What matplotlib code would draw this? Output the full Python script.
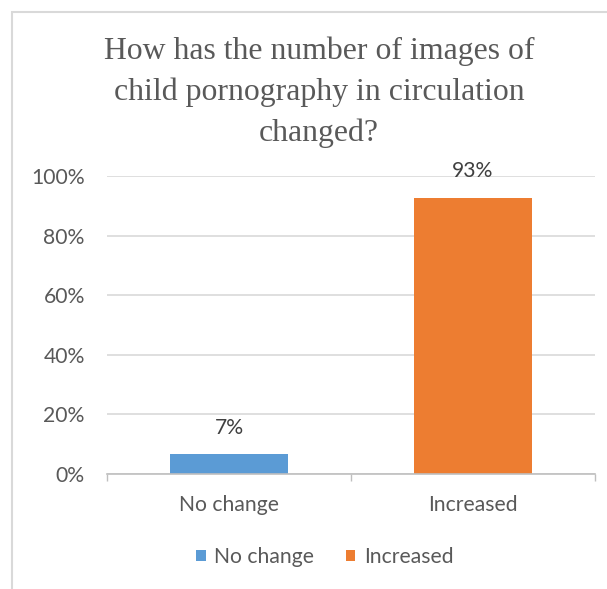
import matplotlib
matplotlib.use("Agg")
import matplotlib.pyplot as plt
from matplotlib.patches import Patch, Rectangle

# chart data
categories = ["No change", "Increased"]
values = [0.066, 0.926]
colors = ["#5b9bd5", "#ed7d31"]
y_ticks = [0, 0.2, 0.4, 0.6, 0.8, 1.0]
y_tick_labels = ["0%", "20%", "40%", "60%", "80%", "100%"]
title = "How has the number of images of\nchild pornography in circulation\nchanged?"

plt.rcParams["font.family"] = ["Lato", "DejaVu Sans"]
fs = 15.2

fig = plt.figure(figsize=(6.07, 5.89), dpi=100)
ax = fig.add_axes([107 / 607, 1 - 474 / 589, (595 - 107) / 607, (474 - 176) / 589])

x = list(range(len(categories)))
bars = ax.bar(x, values, width=0.48, color=colors, zorder=3)

for xi, v in zip(x, values):
    ax.annotate(f"{v * 100:.0f}%", (xi, v), xytext=(0, 12), textcoords="offset points",
                ha="center", va="bottom", fontsize=fs, color="#404040")

ax.set_xlim(-0.5, 1.5)
ax.set_ylim(0, 1)
ax.set_yticks(y_ticks)
ax.set_yticklabels(y_tick_labels)
ax.set_xticks(x)
ax.set_xticklabels(categories)
ax.set_xticks([-0.5, 0.5, 1.5], minor=True)
ax.tick_params(axis="x", which="major", length=0, pad=15, labelsize=fs, labelcolor="#595959")
ax.tick_params(axis="x", which="minor", length=5, color="#bfbfbf", width=1)
ax.tick_params(axis="y", length=0, pad=16, labelsize=fs, labelcolor="#595959")

ax.grid(axis="y", color="#d9d9d9", linewidth=1.2, zorder=0)
for s in ["top", "right", "left"]:
    ax.spines[s].set_visible(False)
ax.spines["bottom"].set_color("#bfbfbf")
ax.spines["bottom"].set_linewidth(1.2)
ax.spines["bottom"].set_zorder(4)

fig.text(319 / 607, 1 - 37 / 589, title, ha="center", va="top", fontsize=22.9,
         family="Liberation Serif", color="#595959", linespacing=1.5)

handles = [Patch(facecolor=c, edgecolor="none") for c in colors]
fig.legend(handles, categories, loc="center", bbox_to_anchor=(0.535, 1 - 557 / 589), ncol=2,
           frameon=False, fontsize=fs, labelcolor="#595959", handlelength=0.45, handleheight=0.45,
           handletextpad=0.4, columnspacing=1.5)

# chart border (cropped on right and bottom)
fig.add_artist(Rectangle((12 / 607, -0.1), 1.2, 1 - 12 / 589 + 0.1, transform=fig.transFigure,
                         fill=False, edgecolor="#d9d9d9", linewidth=1.5))

fig.savefig("out.png", dpi=100)
